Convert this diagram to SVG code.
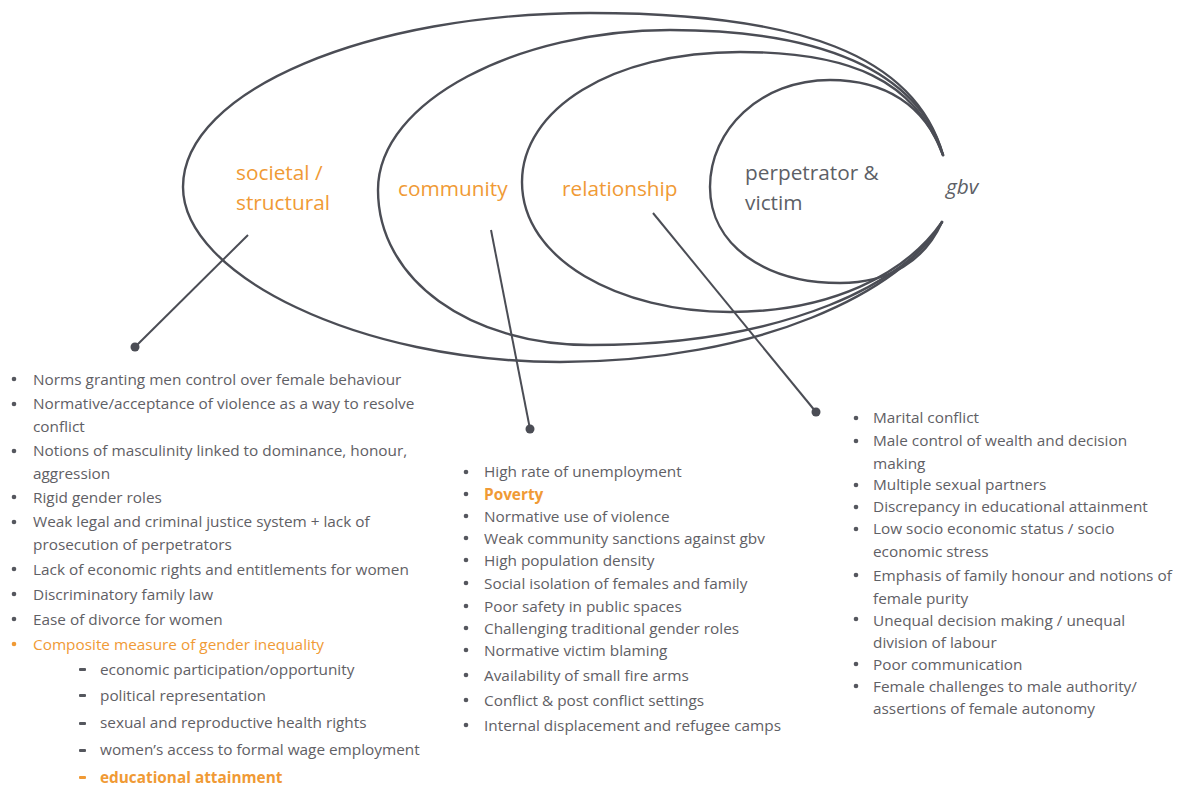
<svg xmlns="http://www.w3.org/2000/svg" width="1179" height="787" viewBox="0 0 1179 787">
<style>
.ring{fill:none;stroke:#4b4d55;stroke-width:2.4;stroke-linecap:round}
.con{fill:none;stroke:#4b4d55;stroke-width:2}
.dot{fill:#4b4d55}
.lbl{font-family:"Open Sans",Lato,sans-serif;font-size:20.8px}
.or{fill:#f09a35}
.gr{fill:#5d5f66}
.li{font-family:"Open Sans",Lato,sans-serif;font-size:15.35px;fill:#5f6065}
.lo{fill:#f09a35}
.b{font-weight:bold}
.bul{fill:#55575e}
.bulo{fill:#f09a35}
</style>
<rect width="1179" height="787" fill="#ffffff"/>
<g id="rings">
<path id="ring-societal" class="ring" d="M943,155 C915,55 800,13 590,13 C370,13 183,90 183,187 C183,275 360,362 560,362 C760,362 905,290 942,222"/>
<path id="ring-community" class="ring" d="M943,155 C918,70 820,30 670,30 C520,30 378,100 378,190 C378,280 470,345 590,345 C790,345 910,280 942,222"/>
<path id="ring-relationship" class="ring" d="M943,155 C915,80 850,52 740,52 C610,52 522,110 522,182 C522,260 620,312 730,312 C830,312 905,275 942,222"/>
<path id="ring-individual" class="ring" d="M943,155 C925,105 885,80 830,80 C760,80 710,130 710,187 C710,245 765,283 840,283 C890,283 925,260 942,222"/>
</g>
<g id="labels">
<g id="node-societal"><text class="lbl or" x="236" y="180">societal /</text><text class="lbl or" x="236" y="210">structural</text></g>
<g id="node-community"><text class="lbl or" x="398" y="196">community</text></g>
<g id="node-relationship"><text class="lbl or" x="562" y="196">relationship</text></g>
<g id="node-individual"><text class="lbl gr" x="745" y="180">perpetrator &amp;</text><text class="lbl gr" x="745" y="210">victim</text></g>
<g id="node-gbv"><text class="lbl gr" x="946" y="194" font-style="italic">gbv</text></g>
</g>
<g id="connectors">
<line class="con" x1="248" y1="235" x2="135" y2="347"/>
<circle class="dot" cx="135" cy="347" r="4.5"/>
<line class="con" x1="491" y1="230" x2="530" y2="429"/>
<circle class="dot" cx="530" cy="429" r="4.5"/>
<line class="con" x1="653" y1="213" x2="816" y2="412"/>
<circle class="dot" cx="816" cy="412" r="4.5"/>
</g>
<g id="list-societal">
<g class="bul"><circle cx="14" cy="379" r="2.3"/><circle cx="14" cy="404" r="2.3"/><circle cx="14" cy="451" r="2.3"/><circle cx="14" cy="497" r="2.3"/><circle cx="14" cy="522" r="2.3"/><circle cx="14" cy="569" r="2.3"/><circle cx="14" cy="594" r="2.3"/><circle cx="14" cy="619" r="2.3"/></g>
<circle class="bulo" cx="14" cy="644" r="2.3"/>
<text class="li" x="33" y="385">Norms granting men control over female behaviour</text>
<text class="li" x="33" y="409">Normative/acceptance of violence as a way to resolve</text>
<text class="li" x="33" y="432">conflict</text>
<text class="li" x="33" y="456">Notions of masculinity linked to dominance, honour,</text>
<text class="li" x="33" y="479">aggression</text>
<text class="li" x="33" y="503">Rigid gender roles</text>
<text class="li" x="33" y="527">Weak legal and criminal justice system + lack of</text>
<text class="li" x="33" y="550">prosecution of perpetrators</text>
<text class="li" x="33" y="575">Lack of economic rights and entitlements for women</text>
<text class="li" x="33" y="600">Discriminatory family law</text>
<text class="li" x="33" y="625">Ease of divorce for women</text>
<text class="li lo" x="33" y="650">Composite measure of gender inequality</text>
<g class="bul"><rect x="79" y="668" width="7" height="3" rx="1"/><rect x="79" y="694" width="7" height="3" rx="1"/><rect x="79" y="722" width="7" height="3" rx="1"/><rect x="79" y="749" width="7" height="3" rx="1"/></g>
<rect class="bulo" x="79" y="776" width="7" height="3" rx="1"/>
<text class="li" x="100" y="675">economic participation/opportunity</text>
<text class="li" x="100" y="701">political representation</text>
<text class="li" x="100" y="728">sexual and reproductive health rights</text>
<text class="li" x="100" y="755">women’s access to formal wage employment</text>
<text class="li lo b" x="100" y="783">educational attainment</text>
</g>
<g id="list-community">
<g class="bul"><circle cx="466" cy="472" r="2.3"/><circle cx="466" cy="494" r="2.3"/><circle cx="466" cy="516" r="2.3"/><circle cx="466" cy="538" r="2.3"/><circle cx="466" cy="560" r="2.3"/><circle cx="466" cy="583" r="2.3"/><circle cx="466" cy="606" r="2.3"/><circle cx="466" cy="628" r="2.3"/><circle cx="466" cy="650" r="2.3"/><circle cx="466" cy="675" r="2.3"/><circle cx="466" cy="700" r="2.3"/><circle cx="466" cy="725" r="2.3"/></g>
<text class="li" x="484" y="477">High rate of unemployment</text>
<text class="li lo b" x="484" y="500">Poverty</text>
<text class="li" x="484" y="522">Normative use of violence</text>
<text class="li" x="484" y="544">Weak community sanctions against gbv</text>
<text class="li" x="484" y="566">High population density</text>
<text class="li" x="484" y="589">Social isolation of females and family</text>
<text class="li" x="484" y="612">Poor safety in public spaces</text>
<text class="li" x="484" y="634">Challenging traditional gender roles</text>
<text class="li" x="484" y="656">Normative victim blaming</text>
<text class="li" x="484" y="681">Availability of small fire arms</text>
<text class="li" x="484" y="706">Conflict &amp; post conflict settings</text>
<text class="li" x="484" y="731">Internal displacement and refugee camps</text>
</g>
<g id="list-relationship">
<g class="bul"><circle cx="856" cy="418" r="2.3"/><circle cx="856" cy="441" r="2.3"/><circle cx="856" cy="485" r="2.3"/><circle cx="856" cy="507" r="2.3"/><circle cx="856" cy="529" r="2.3"/><circle cx="856" cy="575" r="2.3"/><circle cx="856" cy="619" r="2.3"/><circle cx="856" cy="664" r="2.3"/><circle cx="856" cy="686" r="2.3"/></g>
<text class="li" x="873" y="423">Marital conflict</text>
<text class="li" x="873" y="446">Male control of wealth and decision</text>
<text class="li" x="873" y="469">making</text>
<text class="li" x="873" y="490">Multiple sexual partners</text>
<text class="li" x="873" y="512">Discrepancy in educational attainment</text>
<text class="li" x="873" y="534">Low socio economic status / socio</text>
<text class="li" x="873" y="557">economic stress</text>
<text class="li" x="873" y="581">Emphasis of family honour and notions of</text>
<text class="li" x="873" y="604">female purity</text>
<text class="li" x="873" y="626">Unequal decision making / unequal</text>
<text class="li" x="873" y="648">division of labour</text>
<text class="li" x="873" y="670">Poor communication</text>
<text class="li" x="873" y="692">Female challenges to male authority/</text>
<text class="li" x="873" y="714">assertions of female autonomy</text>
</g>
</svg>
